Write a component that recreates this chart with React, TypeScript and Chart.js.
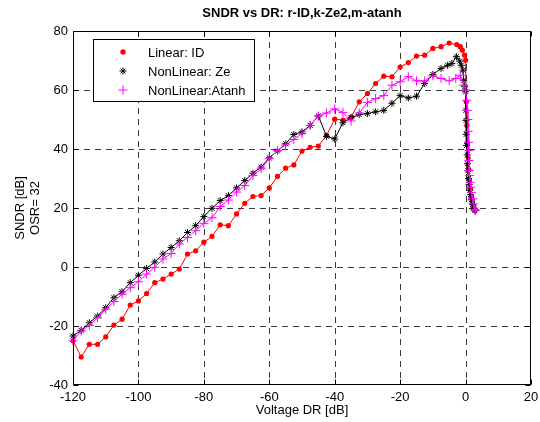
import React, { useEffect, useRef } from 'react';
import { Chart, registerables } from 'chart.js';

Chart.register(...registerables);

const TITLE = 'SNDR vs DR: r-ID,k-Ze2,m-atanh';
const X_LABEL = 'Voltage DR [dB]';
const Y_LABEL = ['SNDR [dB]', 'OSR= 32'];
const X_TICKS = [-120, -100, -80, -60, -40, -20, 0, 20];
const Y_TICKS = [-40, -20, 0, 20, 40, 60, 80];
const SERIES_NAMES = ['Linear: ID', 'NonLinear: Ze', 'NonLinear:Atanh'];

const linearX = [-120, -117.5, -115, -112.5, -110, -107.5, -105, -102.5, -100, -97.5, -95, -92.5, -90, -87.5, -85, -82.5, -80, -77.5, -75, -72.5, -70, -67.5, -65, -62.5, -60, -57.5, -55, -52.5, -50, -47.5, -45, -42.5, -40, -37.5, -35, -32.5, -30, -27.5, -25, -22.5, -20, -17.5, -15, -12.5, -10, -7.5, -5, -2.7, -1.6, -1, -0.3, 0, 0.2, 0.4, 0.6, 0.8, 1.0, 1.2, 1.5, 1.8, 2.1, 2.5, 2.8];
const linearY = [-25, -30.5, -26.2, -26.2, -23.7, -19.7, -17.7, -12.9, -11.5, -9, -5.3, -4.1, -2.4, -0.7, 4.4, 5.5, 8.4, 10.4, 14.3, 14.0, 18.0, 21.6, 23.9, 24.2, 26.8, 30.7, 33.5, 34.6, 39.3, 40.6, 41.0, 44.6, 50.1, 49.8, 50.8, 56.0, 58.8, 62.2, 64.7, 64.5, 67.8, 69.3, 71.5, 71.8, 74.1, 74.7, 75.9, 75.4, 74.7, 73.5, 71.8, 70.1, 56, 48, 42, 37, 33, 29.5, 26.5, 24, 22, 20.3, 19.3];

const zeX = [-120, -117.5, -115, -112.5, -110, -107.5, -105, -102.5, -100, -97.5, -95, -92.5, -90, -87.5, -85, -82.5, -80, -77.5, -75, -72.5, -70, -67.5, -65, -62.5, -60, -57.5, -55, -52.5, -50, -47.5, -45, -42.5, -40, -37.5, -35, -32.5, -30, -27.5, -25, -22.5, -20, -17.5, -15, -12.5, -10, -7.5, -5.5, -4.2, -2.8, -1.8, -1.3, -0.8, -0.6, -0.3, 0, 0.1, 0.15, 0.2, 0.3, 0.5, 0.6, 0.7, 0.9, 1.1, 1.3, 1.5, 1.8, 2.1, 2.5, 2.8];
const zeY = [-23.4, -21.5, -18.9, -16.6, -13.8, -10.4, -8.4, -5.3, -2.8, -0.5, 1.7, 4.4, 6.6, 8.9, 11.7, 14.0, 17.1, 19.9, 22.5, 24.2, 26.8, 29.3, 31.8, 33.9, 37.0, 39.3, 41.8, 44.9, 45.8, 48.0, 51.2, 44.3, 43.4, 48.9, 50.6, 51.7, 52.0, 52.6, 53.1, 55.5, 58.1, 57.3, 57.9, 62.2, 65.3, 67.3, 68.4, 69.0, 71.3, 69.8, 68.4, 66.7, 63.3, 61.1, 59.4, 53.1, 49.7, 45, 41.2, 38, 35, 32.6, 30, 28, 26, 24.5, 22.8, 21.2, 20, 19.1];

const atanhX = [-120, -117.5, -115, -112.5, -110, -107.5, -105, -102.5, -100, -97.5, -95, -92.5, -90, -87.5, -85, -82.5, -80, -77.5, -75, -72.5, -70, -67.5, -65, -62.5, -60, -57.5, -55, -52.5, -50, -47.5, -45, -42.5, -40, -37.5, -35, -32.5, -30, -27.5, -25, -22.5, -20, -17.5, -15, -12.5, -10, -7.5, -5, -3, -1.6, -0.6, 0, 0.3, 0.5, 0.7, 0.8, 0.9, 1.0, 1.05, 1.1, 1.2, 1.4, 1.6, 1.8, 2.1, 2.4, 2.8, 3.1];
const atanhY = [-25, -21.7, -19.8, -17.2, -14.3, -11.7, -9.2, -7.0, -5.0, -2.4, -0.1, 2.7, 4.6, 7.8, 10.0, 12.3, 14.8, 16.7, 20.5, 22.7, 25.4, 27.6, 31.0, 33.3, 36.7, 39.5, 41.4, 43.2, 45.2, 48.0, 51.2, 52.2, 53.6, 52.4, 49.5, 52.2, 55.8, 57.1, 58.1, 61.6, 62.8, 64.5, 63.1, 63.1, 64.8, 63.9, 63.1, 63.9, 65.0, 61.6, 59.9, 56.5, 53.1, 50, 46, 42.3, 39.5, 36.1, 32.7, 31, 28.7, 27, 25.3, 23.1, 21.4, 19.5, 19.1];

const zip = (xs: number[], ys: number[]) => xs.map((x, i) => ({ x, y: ys[i] }));

const FONT = '"Liberation Sans", Arial, sans-serif';
const RED = '#ff0000';
const BLACK = '#000000';
const MAGENTA = '#ff00ff';

function drawMarker(ctx: CanvasRenderingContext2D, style: string, cx: number, cy: number, r: number, color: string) {
  ctx.save();
  ctx.strokeStyle = color;
  ctx.fillStyle = color;
  ctx.lineWidth = 1;
  ctx.beginPath();
  if (style === 'circle') {
    ctx.arc(cx, cy, r, 0, Math.PI * 2);
    ctx.fill();
  } else {
    ctx.moveTo(cx - r, cy);
    ctx.lineTo(cx + r, cy);
    ctx.moveTo(cx, cy - r);
    ctx.lineTo(cx, cy + r);
    if (style === 'star') {
      const d = r * 0.7071;
      ctx.moveTo(cx - d, cy - d);
      ctx.lineTo(cx + d, cy + d);
      ctx.moveTo(cx - d, cy + d);
      ctx.lineTo(cx + d, cy - d);
    }
    ctx.stroke();
  }
  ctx.restore();
}

const matlabAxes = {
  id: 'matlabAxes',
  beforeDatasetsDraw(chart: any) {
    const { ctx, chartArea } = chart;
    const { left, right, top, bottom } = chartArea;
    const xs = chart.scales.x;
    const ys = chart.scales.y;
    ctx.save();
    ctx.strokeStyle = '#3a3a3a';
    ctx.lineWidth = 1;
    ctx.setLineDash([6, 5]);
    X_TICKS.forEach((v) => {
      const p = Math.round(xs.getPixelForValue(v)) + 0.5;
      if (p <= left + 1 || p >= right - 1) return;
      ctx.beginPath();
      ctx.moveTo(p, top);
      ctx.lineTo(p, bottom);
      ctx.stroke();
    });
    Y_TICKS.forEach((v) => {
      const p = Math.round(ys.getPixelForValue(v)) + 0.5;
      if (p <= top + 1 || p >= bottom - 1) return;
      ctx.beginPath();
      ctx.moveTo(left, p);
      ctx.lineTo(right, p);
      ctx.stroke();
    });
    ctx.restore();
  },
  afterDatasetsDraw(chart: any) {
    const { ctx, chartArea } = chart;
    const { left, right, top, bottom } = chartArea;
    const xs = chart.scales.x;
    const ys = chart.scales.y;
    const L = Math.round(left) + 0.5;
    const R = Math.round(right) - 0.5;
    const T = Math.round(top) + 0.5;
    const B = Math.round(bottom) - 0.5;
    ctx.save();
    ctx.strokeStyle = '#000';
    ctx.lineWidth = 1;
    ctx.setLineDash([]);
    ctx.strokeRect(L, T, R - L, B - T);
    const tl = 5;
    ctx.beginPath();
    X_TICKS.forEach((v) => {
      const p = Math.round(xs.getPixelForValue(v)) + 0.5;
      ctx.moveTo(p, B);
      ctx.lineTo(p, B - tl);
      ctx.moveTo(p, T);
      ctx.lineTo(p, T + tl);
    });
    Y_TICKS.forEach((v) => {
      const p = Math.round(ys.getPixelForValue(v)) + 0.5;
      ctx.moveTo(L, p);
      ctx.lineTo(L + tl, p);
      ctx.moveTo(R, p);
      ctx.lineTo(R - tl, p);
    });
    ctx.stroke();

    // legend
    const bx = 93.5, by = 39.5, bw = 161, bh = 62;
    ctx.fillStyle = '#fff';
    ctx.fillRect(bx, by, bw, bh);
    ctx.strokeRect(bx, by, bw, bh);
    const rows = [52, 71, 90];
    const styles = ['circle', 'star', 'cross'];
    const colors = [RED, BLACK, MAGENTA];
    const radii = [2.7, 3.5, 4.5];
    ctx.font = `13px ${FONT}`;
    ctx.textBaseline = 'middle';
    ctx.textAlign = 'left';
    SERIES_NAMES.forEach((name, i) => {
      drawMarker(ctx, styles[i], 123, rows[i], radii[i], colors[i]);
      ctx.fillStyle = '#000';
      ctx.fillText(name, 148, rows[i] + 1);
    });
    ctx.restore();
  },
};

export default function App() {
  const ref = useRef<HTMLCanvasElement | null>(null);
  useEffect(() => {
    if (!ref.current) return;
    Chart.defaults.font.family = FONT;
    Chart.defaults.color = '#000';
    const chart = new Chart(ref.current, {
      type: 'scatter',
      data: {
        datasets: [
          {
            label: SERIES_NAMES[0],
            data: zip(linearX, linearY),
            showLine: true,
            borderColor: RED,
            backgroundColor: RED,
            borderWidth: 1,
            pointStyle: 'circle',
            pointRadius: 2.6,
            pointBorderWidth: 0,
            pointBackgroundColor: RED,
            order: 3,
            clip: false,
          },
          {
            label: SERIES_NAMES[1],
            data: zip(zeX, zeY),
            showLine: true,
            borderColor: BLACK,
            backgroundColor: BLACK,
            borderWidth: 1,
            pointStyle: 'star',
            pointRadius: 3.5,
            pointBorderWidth: 1,
            pointBorderColor: BLACK,
            order: 2,
            clip: false,
          },
          {
            label: SERIES_NAMES[2],
            data: zip(atanhX, atanhY),
            showLine: true,
            borderColor: MAGENTA,
            backgroundColor: MAGENTA,
            borderWidth: 1,
            pointStyle: 'cross',
            pointRadius: 4.5,
            pointBorderWidth: 1,
            pointBorderColor: MAGENTA,
            order: 1,
            clip: false,
          },
        ] as any,
      },
      options: {
        animation: false,
        responsive: false,
        devicePixelRatio: 1,
        layout: { padding: { left: 0, right: 9, top: 0, bottom: 0 } },
        plugins: {
          legend: { display: false },
          tooltip: { enabled: false },
          title: {
            display: true,
            text: TITLE,
            fullSize: false,
            color: '#000',
            font: { family: FONT, size: 13, weight: 'bold' },
            padding: { top: 6, bottom: 9.4 },
          },
        },
        scales: {
          x: {
            type: 'linear',
            min: -120,
            max: 20,
            afterBuildTicks: (s: any) => {
              s.ticks = X_TICKS.map((v) => ({ value: v }));
            },
            afterFit: (s: any) => {
              s.height = 37;
              s.paddingLeft = 0;
              s.paddingRight = 0;
            },
            grid: { display: false, drawTicks: false },
            border: { display: false },
            ticks: { color: '#000', font: { family: FONT, size: 13 }, padding: 5, maxRotation: 0, autoSkip: false },
            title: {
              display: true,
              text: X_LABEL,
              color: '#000',
              font: { family: FONT, size: 13 },
              padding: { top: 0, bottom: 4.2 },
            },
          },
          y: {
            type: 'linear',
            min: -40,
            max: 80,
            afterBuildTicks: (s: any) => {
              s.ticks = Y_TICKS.map((v) => ({ value: v }));
            },
            afterFit: (s: any) => {
              s.width = 73;
              s.paddingTop = 0;
              s.paddingBottom = 0;
            },
            grid: { display: false, drawTicks: false },
            border: { display: false },
            ticks: { color: '#000', font: { family: FONT, size: 13 }, padding: 5, autoSkip: false },
            title: {
              display: true,
              text: Y_LABEL,
              color: '#000',
              font: { family: FONT, size: 13 },
              padding: { top: 12.2, bottom: 0 },
            },
          },
        },
      } as any,
      plugins: [matlabAxes],
    });
    return () => chart.destroy();
  }, []);
  return (
    <div style={{ position: 'absolute', left: 0, top: 0, width: 540, height: 422, background: '#fff' }}>
      <canvas ref={ref} width={540} height={422} style={{ width: 540, height: 422, display: 'block' }} />
    </div>
  );
}
